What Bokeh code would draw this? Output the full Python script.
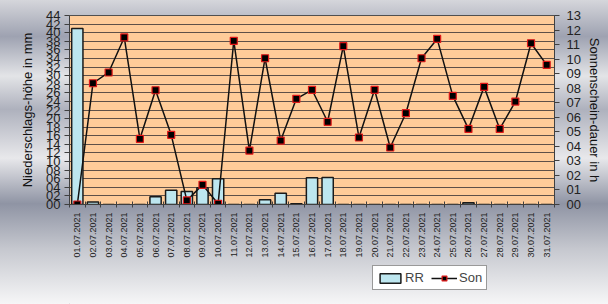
import numpy as np
from bokeh.plotting import figure
from bokeh.layouts import column
from bokeh.models import (Range1d, LinearAxis, FixedTicker, Legend, LegendItem)
from bokeh.embed import file_html
from bokeh.resources import INLINE

dates = ["%02d.07.2021" % d for d in range(1, 32)]
rr = [41.0, 0.6, 0, 0, 0, 1.8, 3.3, 3.0, 3.9, 6.0, 0, 0, 1.1, 2.6, 0.15, 6.2,
      6.3, 0, 0, 0, 0, 0, 0, 0, 0, 0.4, 0, 0, 0, 0, 0]
son = [0, 8.34, 9.08, 11.49, 4.52, 7.86, 4.79, 0.28, 1.35, 0.05, 11.26, 3.71,
       10.06, 4.40, 7.27, 7.89, 5.69, 10.89, 4.61, 7.89, 3.92, 6.28, 10.06,
       11.39, 7.47, 5.2, 8.09, 5.2, 7.08, 11.09, 9.6]
rr_ticks = list(range(0, 45, 2))
son_ticks = list(range(0, 14))

FONT = "Liberation Sans"
x = list(range(1, len(dates) + 1))

BAR_STYLE = dict(fill_color="#bde6ef", line_color="#1a1a1a", line_width=1.5)
LINE_STYLE = dict(line_color="#111111", line_width=1.5)
MARK_STYLE = dict(marker="square", fill_color="#000000", line_color="#e01818", line_width=1.2)

p = figure(width=608, height=264, output_backend="svg", toolbar_location=None,
           x_range=Range1d(0.5, len(dates) + 0.5), y_range=Range1d(0, 44),
           min_border_left=69, min_border_right=54, min_border_top=15,
           min_border_bottom=60)
p.extra_y_ranges = {"son": Range1d(0, 13)}
p.border_fill_color = None
p.background_fill_color = "#ffcc99"
p.outline_line_color = "#505050"
p.xgrid.grid_line_color = None
p.ygrid.ticker = FixedTicker(ticks=rr_ticks)
p.ygrid.grid_line_color = "#5e5048"
p.ygrid.grid_line_width = 1.2

p.vbar(x=x, top=rr, width=0.72, **BAR_STYLE)
p.line(x=x, y=son, y_range_name="son", **LINE_STYLE)
p.scatter(x=x, y=son, y_range_name="son", size=7, **MARK_STYLE)

# x axis
xa = p.xaxis[0]
xa.ticker = FixedTicker(ticks=x, minor_ticks=[v + 0.5 for v in range(0, len(dates) + 1)])
xa.major_label_overrides = {i: d for i, d in zip(x, dates)}
xa.major_label_orientation = np.pi / 2
xa.major_tick_out = 0
xa.major_tick_in = 0
xa.minor_tick_in = 3
xa.minor_tick_out = 3
xa.minor_tick_line_color = "#404040"
xa.axis_line_color = "#404040"
xa.major_label_text_font = FONT
xa.major_label_text_font_size = "9px"
xa.major_label_text_color = "#222222"
xa.major_label_standoff = 5

# left axis
ya = p.yaxis[0]
ya.ticker = FixedTicker(ticks=rr_ticks)
ya.major_label_overrides = {t: "%02d" % t for t in rr_ticks}
ya.minor_tick_line_color = None
ya.major_tick_out = 5
ya.major_tick_in = 0
ya.major_tick_line_color = "#404040"
ya.axis_line_color = "#404040"
ya.major_label_text_font = FONT
ya.major_label_text_font_size = "13px"
ya.major_label_text_color = "#222222"
ya.major_label_standoff = 4
ya.axis_label = "Niederschlags-höhe in mm"
ya.axis_label_text_font = FONT
ya.axis_label_text_font_style = "normal"
ya.axis_label_text_font_size = "13px"
ya.axis_label_text_color = "#111111"
ya.axis_label_standoff = 8

ra = LinearAxis(y_range_name="son", ticker=FixedTicker(ticks=son_ticks))
ra.major_label_overrides = {t: "%02d" % t for t in son_ticks}
ra.minor_tick_line_color = None
ra.major_tick_out = 5
ra.major_tick_in = 0
ra.major_tick_line_color = "#404040"
ra.axis_line_color = "#404040"
ra.major_label_text_font = FONT
ra.major_label_text_font_size = "13px"
ra.major_label_text_color = "#222222"
ra.major_label_standoff = 7
ra.axis_label = "Sonnenschein-dauer in h"
ra.axis_label_text_font = FONT
ra.axis_label_text_font_style = "normal"
ra.axis_label_text_font_size = "13px"
ra.axis_label_text_color = "#111111"
ra.axis_label_standoff = 3
p.add_layout(ra, "right")

# legend strip below the chart (its frame is aligned with the chart's frame)
q = figure(width=608, height=40, output_backend="svg", toolbar_location=None,
           x_range=Range1d(0, 1), y_range=Range1d(0, 1),
           min_border_left=0, min_border_right=0, min_border_top=0, min_border_bottom=0)
q.axis.visible = False
q.grid.visible = False
q.outline_line_color = None
q.border_fill_color = None
q.background_fill_color = None
lb = q.vbar(x=[-5], top=[-5], bottom=[-6], width=0.5, **BAR_STYLE)
ll = q.line(x=[-5, -4], y=[-5, -5], **LINE_STYLE)
lm = q.scatter(x=[-5], y=[-5], size=7, **MARK_STYLE)
legend = Legend(items=[LegendItem(label="RR", renderers=[lb]),
                       LegendItem(label="Son", renderers=[ll, lm])],
                location=(303, 14), orientation="horizontal",
                glyph_width=26, glyph_height=12, label_height=12, spacing=6,
                padding=4, label_standoff=2, margin=0,
                label_text_font=FONT, label_text_font_size="13px",
                border_line_color="#333333", border_line_width=1,
                background_fill_color="white", background_fill_alpha=1)
q.add_layout(legend, "center")

layout = column(p, q, spacing=0)
layout.styles = {"background": "linear-gradient(to bottom, #d5d6db 0%, #9ea2b1 12%, #e3e4e7 25%, "
                 "#aeb1bd 36%, #e8e8eb 52%, #8f94a4 67%, #c6c8cf 82%, #f6f6f7 100%)"}

open("out.html", "w").write(file_html(layout, INLINE))
